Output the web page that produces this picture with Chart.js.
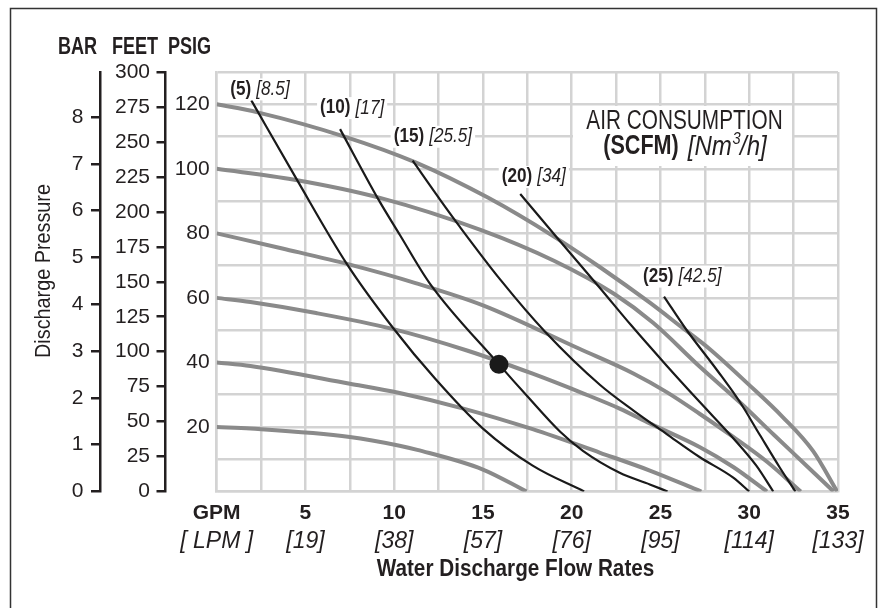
<!DOCTYPE html>
<html><head><meta charset="utf-8">
<script src="https://cdn.jsdelivr.net/npm/chart.js@4/dist/chart.umd.min.js"></script>
<style>html,body{margin:0;padding:0;background:#fff}#wrap{width:884px;height:608px}</style>
</head><body><div id="wrap"><canvas id="c" width="884" height="608"></canvas></div>
<script>
// ---------- data ----------
const gpmTicks = [0, 5, 10, 15, 20, 25, 30, 35];
const gpmTickLabels = ['GPM', '5', '10', '15', '20', '25', '30', '35'];
const lpmTickLabels = ['[ LPM ]', '[19]', '[38]', '[57]', '[76]', '[95]', '[114]', '[133]'];
const psiLabeled = [20, 40, 60, 80, 100, 120];
const feetTicks = [0, 25, 50, 75, 100, 125, 150, 175, 200, 225, 250, 275, 300];
const barTicks = [0, 1, 2, 3, 4, 5, 6, 7, 8];

// air inlet pressure curves (GPM, PSIG)
const psi120 = [[0,120],[2.3,117.5],[7.2,110],[11.2,102],[15.3,91],[19,79],[21.6,69.5],[24.4,58.5],[26.1,51.3],[27.8,44],[29.9,33.5],[31.9,23],[33.6,12.5],[34.95,0]];
const psi100 = [[0,100],[4.3,96.7],[9.2,91],[14.9,81],[19,71.5],[22.4,61.2],[24.6,52.2],[27.25,38.5],[29.5,27.5],[31.4,17.5],[33.3,7.6],[34.75,0]];
const psi80  = [[0,80],[3.7,75.3],[7.5,70.3],[11.2,64.6],[15,57.7],[20.4,44.3],[23.5,36.5],[25.35,30.8],[27.2,24.1],[29.1,16.9],[31,9.2],[32.9,0]];
const psi60  = [[0,60],[1.9,58.7],[5.6,55.3],[9.9,50.4],[14.1,43.7],[17.8,36.5],[20.6,30.5],[22.7,25.7],[24.4,21.1],[27.2,13.8],[29.1,7.6],[31,0]];
const psi40  = [[0,40],[1.9,38.9],[7.5,33.4],[10.3,30.5],[13.9,25.7],[17.8,19.3],[21.6,12],[24.4,6.5],[27.3,0]];
const psi20  = [[0,20],[1.9,19.5],[7.5,16.9],[10.3,14.2],[11.3,12.9],[15,6.8],[17.45,0]];

// air consumption curves (GPM, PSIG)
const scfm5  = [[1.95,121.2],[4.5,96.8],[7.3,70.8],[9.95,50.6],[12.3,35],[15,19.5],[17.8,8],[20.7,0]];
const scfm10 = [[6.95,112.3],[9.1,90.6],[10.33,79.4],[12,64.5],[15.9,39.4],[17.5,29.5],[19.35,18.5],[20.65,12.5],[22.7,5.8],[24.4,2.2],[25.4,0]];
const scfm15 = [[11.04,102.5],[12.6,90.3],[13.7,82],[16,65.5],[18.5,49.5],[21.6,33],[23.5,25],[25.35,17.8],[27.2,10.7],[29.1,4.3],[30,0]];
const scfm20 = [[17.1,92.2],[19.2,78.5],[21.6,63],[23.35,51.5],[25.35,39],[27.2,27.8],[29.1,16.5],[30.4,8],[31.35,0]];
const scfm25 = [[25.2,60.4],[26.45,50.2],[28.2,37.5],[29.5,27.5],[30.6,17.5],[31.7,7.6],[32.6,0]];

const scfmNames = ['5', '10', '15', '20', '25'];
const nm3Names  = ['8.5', '17', '25.5', '34', '42.5'];
const operatingPoint = [15.9, 39.4];

// ---------- chart ----------
const REG = "'Liberation Sans',Arial,sans-serif";
const INK = '#231f20';
const GRID = '#d3d3d3';
const GRAY = '#8a8a8a';
const pts = a => a.map(([x, y]) => ({x, y}));

const grayCurves = [psi120, psi100, psi80, psi60, psi40, psi20];
const blackCurves = [scfm5, scfm10, scfm15, scfm20, scfm25];

const datasets = [];
datasets.push({type: 'scatter', data: [{x: operatingPoint[0], y: operatingPoint[1]}], pointRadius: 9.5,
  pointBackgroundColor: '#1a1a1a', pointBorderWidth: 0, order: 1});
blackCurves.forEach(c => datasets.push({data: pts(c), borderColor: '#1a1a1a', borderWidth: 2.2,
  pointRadius: 0, cubicInterpolationMode: 'monotone', fill: false, order: 2}));
grayCurves.forEach(c => datasets.push({data: pts(c), borderColor: GRAY, borderWidth: 4,
  pointRadius: 0, cubicInterpolationMode: 'monotone', fill: false, order: 3}));

// condensed text helper (horizontal squeeze)
function txt(ctx, s, x, y, font, align, sx) {
  ctx.save();
  ctx.font = font;
  const w = ctx.measureText(s).width * sx;
  let left = x;
  if (align === 'center') left = x - w / 2;
  else if (align === 'right') left = x - w;
  ctx.translate(left, y);
  ctx.scale(sx, 1);
  ctx.textAlign = 'left';
  ctx.fillText(s, 0, 0);
  ctx.restore();
  return w;
}
function tw(ctx, s, font, sx) { ctx.save(); ctx.font = font; const w = ctx.measureText(s).width * sx; ctx.restore(); return w; }

const annot = {
  id: 'annot',
  beforeDraw(chart) {
    const ctx = chart.ctx;
    ctx.save();
    ctx.fillStyle = '#fff';
    ctx.fillRect(0, 0, chart.width, chart.height);
    ctx.strokeStyle = '#333';
    ctx.lineWidth = 1.5;
    ctx.beginPath();
    ctx.moveTo(10.5, 608); ctx.lineTo(10.5, 8.5); ctx.lineTo(876.5, 8.5); ctx.lineTo(876.5, 608);
    ctx.stroke();
    ctx.restore();
  },
  afterDraw(chart) {
    const ctx = chart.ctx;
    const xs = chart.scales.x, ys = chart.scales.y;
    ctx.save();
    ctx.fillStyle = INK;
    ctx.textBaseline = 'middle';
    // header
    const hf = "bold 23.5px " + REG;
    txt(ctx, 'BAR', 77.5, 48, hf, 'center', 0.77);
    txt(ctx, 'FEET', 135, 48, hf, 'center', 0.77);
    txt(ctx, 'PSIG', 189.5, 48, hf, 'center', 0.77);
    // y title
    ctx.save();
    ctx.translate(44, 271);
    ctx.rotate(-Math.PI / 2);
    txt(ctx, 'Discharge Pressure', 0, 0, "22px " + REG, 'center', 0.9);
    ctx.restore();
    // x title
    txt(ctx, 'Water Discharge Flow Rates', 515.5, 570, "bold 23px " + REG, 'center', 0.9);

    // curve labels
    const offs = [[-21, -11], [-20, -21], [-19, -24], [-18.5, -17], [-21, -20]];
    const bf = "bold 19.5px " + REG, itf = "italic 19.5px " + REG, sq = 0.88;
    blackCurves.forEach((c, i) => {
      const px = xs.getPixelForValue(c[0][0]) + offs[i][0];
      const py = ys.getPixelForValue(c[0][1]) + offs[i][1];
      const t1 = '(' + scfmNames[i] + ')', t2 = '[' + nm3Names[i] + ']';
      const w1 = tw(ctx, t1, bf, sq), w2 = tw(ctx, t2, itf, sq);
      const gap = 5;
      ctx.fillStyle = '#fff';
      ctx.fillRect(px - 3, py - 11, w1 + gap + w2 + 6, 22);
      ctx.fillStyle = INK;
      txt(ctx, t1, px, py, bf, 'left', sq);
      txt(ctx, t2, px + w1 + gap, py, itf, 'left', sq);
    });

    // AIR CONSUMPTION note
    ctx.fillStyle = '#fff';
    ctx.fillRect(573, 106, 219, 60);
    ctx.fillStyle = INK;
    txt(ctx, 'AIR CONSUMPTION', 684.5, 122, "27px " + REG, 'center', 0.77);
    const af = "bold 27px " + REG, nf = "italic 28px " + REG, sf = "italic 17px " + REG;
    const wa = tw(ctx, '(SCFM)', af, 0.8);
    const w1 = tw(ctx, '[Nm', nf, 0.86), ws = tw(ctx, '3', sf, 0.86), w3 = tw(ctx, '/h]', nf, 0.86);
    const gap2 = 9;
    const start = 685 - (wa + gap2 + w1 + ws + w3) / 2;
    txt(ctx, '(SCFM)', start, 147, af, 'left', 0.8);
    let xx = start + wa + gap2;
    txt(ctx, '[Nm', xx, 147, nf, 'left', 0.86); xx += w1;
    txt(ctx, '3', xx + 0.5, 139, sf, 'left', 0.86); xx += ws;
    txt(ctx, '/h]', xx, 147, nf, 'left', 0.86);
    ctx.restore();
  }
};

new Chart(document.getElementById('c'), {
  type: 'line',
  data: {datasets},
  plugins: [annot],
  options: {
    responsive: false,
    animation: false,
    devicePixelRatio: 1,
    layout: {padding: {left: 0, right: 46, top: 72, bottom: 0}},
    plugins: {legend: {display: false}, tooltip: {enabled: false}},
    scales: {
      x: {
        type: 'linear', position: 'bottom', weight: 0, min: 0, max: 35,
        ticks: {stepSize: 2.5, autoSkip: false, maxRotation: 0, padding: 9, color: INK,
          font: {family: REG, size: 21, weight: 'bold'},
          callback: v => { const i = gpmTicks.indexOf(v); return i >= 0 ? gpmTickLabels[i] : ''; }},
        grid: {color: GRID, lineWidth: 2.5, drawTicks: false},
        border: {display: true, color: GRID, width: 2.5},
        afterFit: s => { s.height = 30; }
      },
      xl: {
        type: 'linear', position: 'bottom', weight: 1, min: 0, max: 35,
        afterBuildTicks: s => { s.ticks = gpmTicks.map(value => ({value})); },
        ticks: {autoSkip: false, maxRotation: 0, padding: 6, color: INK,
          font: {family: REG, size: 23, style: 'italic'},
          callback: (v, i) => lpmTickLabels[i]},
        grid: {display: false, drawTicks: false},
        border: {display: false},
        afterFit: s => { s.height = 86.5; }
      },
      y: {
        type: 'linear', position: 'left', weight: 1, min: 0, max: 130,
        ticks: {stepSize: 10, autoSkip: false, padding: 7, color: INK,
          font: {family: REG, size: 21},
          callback: v => psiLabeled.includes(v) ? String(v) : ''},
        grid: {color: GRID, lineWidth: 2.5, drawTicks: false},
        border: {display: true, color: GRID, width: 2.5},
        afterFit: s => { s.width = 51.7; }
      },
      feet: {
        type: 'linear', position: 'left', weight: 2, min: 0, max: 300,
        afterBuildTicks: s => { s.ticks = feetTicks.map(value => ({value})); },
        ticks: {autoSkip: false, padding: 6.5, color: INK, font: {family: REG, size: 21}},
        grid: {drawOnChartArea: false, color: INK, lineWidth: 2.5, tickLength: 8.5},
        border: {display: true, color: INK, width: 2.5},
        afterFit: s => { s.width = 65; }
      },
      bar: {
        type: 'linear', position: 'left', weight: 3, min: 0, max: 130 / 14.5038,
        afterBuildTicks: s => { s.ticks = barTicks.map(value => ({value})); },
        ticks: {autoSkip: false, padding: 7.5, color: INK, font: {family: REG, size: 21}},
        grid: {drawOnChartArea: false, color: INK, lineWidth: 2.5, tickLength: 9},
        border: {display: true, color: INK, width: 2.5},
        afterFit: s => { s.width = 100; }
      }
    }
  }
});
</script>
</body></html>
